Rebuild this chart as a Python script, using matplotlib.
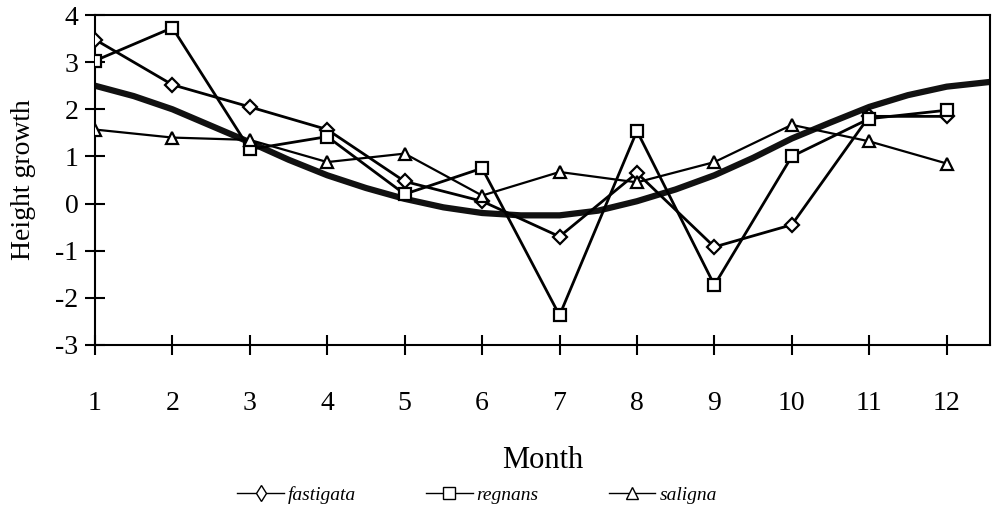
import numpy as np
import matplotlib
matplotlib.use('Agg')
import matplotlib.pyplot as plt
from matplotlib.lines import Line2D

# ── data ───────────────────────────────────────────────────────────────────
months    = [1, 2, 3, 4, 5, 6, 7, 8, 9, 10, 11, 12]
fastigata = [3.48, 2.52, 2.05, 1.57, 0.47, 0.05, -0.70, 0.65, -0.92, -0.45, 1.85, 1.85]
regnans   = [3.03, 3.73, 1.15, 1.42, 0.20, 0.75, -2.37, 1.54, -1.73, 1.00, 1.80, 1.98]
saligna   = [1.57, 1.40, 1.35, 0.88, 1.06, 0.17, 0.67, 0.45, 0.88, 1.67, 1.32, 0.85]

# fitted seasonal curve, read at half-month steps
fit_x = [1, 1.5, 2, 2.5, 3, 3.5, 4, 4.5, 5, 5.5, 6, 6.5, 7, 7.5, 8, 8.5,
         9, 9.5, 10, 10.5, 11, 11.5, 12, 12.56]
fit_y = [2.50, 2.28, 2.00, 1.65, 1.30, 0.93, 0.60, 0.33, 0.10, -0.08, -0.20, -0.25,
         -0.25, -0.15, 0.05, 0.30, 0.60, 0.97, 1.38, 1.72, 2.05, 2.30, 2.48, 2.58]

plt.rcParams['font.family'] = ['Liberation Serif', 'DejaVu Serif']
plt.rcParams['axes.unicode_minus'] = False

fig = plt.figure(figsize=(9.96, 5.11), dpi=100)
ax = fig.add_axes([95/996, 1 - 345/511, (990 - 95)/996, (345 - 15)/511])

ax.plot(fit_x, fit_y, color='#111111', lw=4.5, solid_capstyle='round', zorder=2)

mk = dict(color='black', lw=2.0, mfc='white', mec='black', mew=1.6, ms=8, zorder=3)
ax.plot(months, fastigata, marker='D', **dict(mk, ms=7))
ax.plot(months, regnans, marker='s', **mk)
ax.plot(months, saligna, marker='^', **dict(mk, lw=1.6))

ax.set_xlim(1, 12.56)
ax.set_ylim(-3, 4)
ax.set_xticks(months)
ax.set_yticks(range(-3, 5))
ax.tick_params(direction='inout', length=14, width=1.5, labelsize=20, pad=26)
ax.tick_params(axis='y', pad=5)
for s in ax.spines.values():
    s.set_linewidth(1.5)

ax.set_xlabel('Month', fontsize=22, labelpad=22)
ax.set_ylabel('Height growth', fontsize=20, labelpad=14)

handles = [
    Line2D([], [], color='black', lw=1, marker='d', mfc='white', mec='black', ms=8),
    Line2D([], [], color='black', lw=1, marker='s', mfc='white', mec='black', ms=9),
    Line2D([], [], color='black', lw=1, marker='^', mfc='white', mec='black', ms=9),
]
fig.legend(handles, ['fastigata', 'regnans', 'saligna'], ncol=3, frameon=False,
           loc='center', bbox_to_anchor=(477/996, 16/511),
           prop={'style': 'italic', 'size': 14}, handlelength=2.4,
           columnspacing=3.6, handletextpad=0.2)

fig.savefig('out.png', dpi=100)
